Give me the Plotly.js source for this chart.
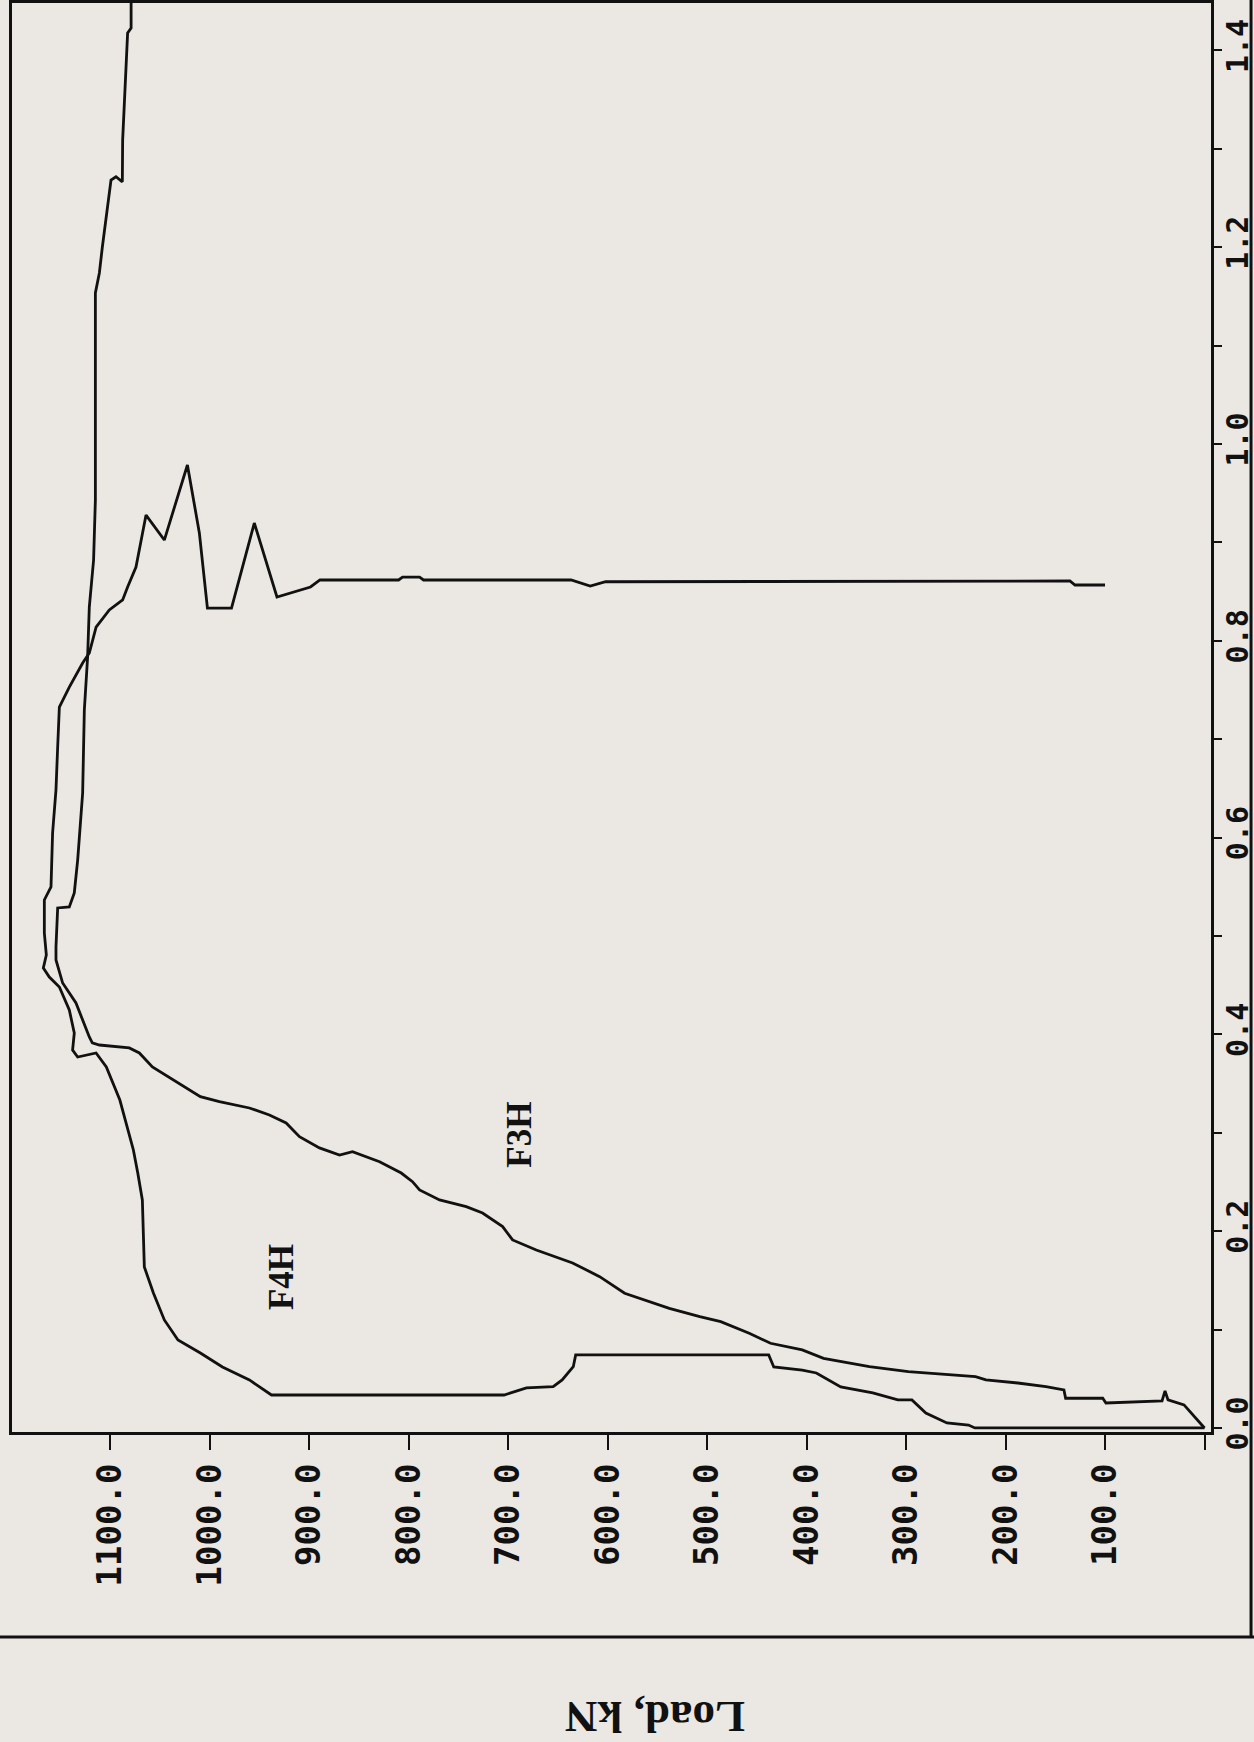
<!DOCTYPE html>
<html>
<head>
<meta charset="utf-8">
<script src="https://cdn.plot.ly/plotly-3.0.1.min.js"></script>
<style>html,body{margin:0;padding:0;background:#ebe7e2;}</style>
</head>
<body>
<div id="chart" style="width:1254px;height:1742px;"></div>
<script>
// F3H : load (kN) vs displacement
const f3hLoad = [0, 9.9, 20.6, 36.7, 39.7, 42.7, 99.1, 102.3, 139.6, 141.3, 159.4, 187.6, 219.7, 230.2, 297.7, 336.8, 382.9, 404.3, 436.2, 457.6, 486.2, 507.3, 537.9, 582.8, 607.9, 635.1, 671.6, 695.4, 705.4, 725.6, 742, 768.8, 788.9, 796, 807.3, 829.1, 856.3, 869.3, 889.5, 909.6, 923, 939.8, 959.9, 990.1, 1009.2, 1057.4, 1070.5, 1080.6, 1110.7, 1117.8, 1120.8, 1134.2, 1147.6, 1154.3, 1154.3, 1152.6, 1140.9, 1135.9, 1132.5, 1127.5, 1125.8, 1122.5, 1120.8, 1116.5, 1114.7, 1114.7, 1110.7, 1107.7, 1104, 1100.7, 1099, 1094, 1087.6, 1087.3, 1084, 1082.3, 1078.8, 1078.8];
const f3hDisp = [0, 0.0115, 0.0234, 0.0285, 0.0376, 0.0274, 0.0254, 0.0302, 0.0302, 0.0386, 0.042, 0.0457, 0.0488, 0.0521, 0.0572, 0.0623, 0.0708, 0.0793, 0.0861, 0.0962, 0.108, 0.1131, 0.1216, 0.1369, 0.1538, 0.1677, 0.1809, 0.1911, 0.2046, 0.2185, 0.2249, 0.2317, 0.2419, 0.2503, 0.2591, 0.2706, 0.2808, 0.2774, 0.2846, 0.296, 0.31, 0.3181, 0.3252, 0.3316, 0.3367, 0.3669, 0.3811, 0.3862, 0.3892, 0.3913, 0.3974, 0.4319, 0.4522, 0.4756, 0.4888, 0.5285, 0.5295, 0.5437, 0.5772, 0.6453, 0.7297, 0.7835, 0.8343, 0.8821, 0.9431, 1.1535, 1.1738, 1.2002, 1.2276, 1.2551, 1.2683, 1.2716, 1.2665, 1.3089, 1.3733, 1.4177, 1.4228, 1.47];

// F4H : load (kN) vs displacement
const f4hLoad = [0, 230.8, 237.2, 258.9, 280.1, 294.1, 308.2, 333.4, 365.6, 390.1, 404.3, 432.9, 438, 507.3, 632, 634.4, 645.6, 654.6, 681.5, 704, 807.2, 937.7, 959.9, 987, 1009.2, 1031.7, 1045.4, 1056.4, 1065.5, 1067.5, 1072.1, 1076.5, 1090.1, 1103.7, 1114, 1132.5, 1137.6, 1135.9, 1140.9, 1150.9, 1161, 1167, 1164, 1166, 1166, 1159.3, 1157.7, 1154.3, 1152.6, 1150.9, 1140.9, 1127.5, 1120.8, 1114, 1100.7, 1087.3, 1082.3, 1073.9, 1063.8, 1045.4, 1022.2, 1010.2, 1002.1, 977.9, 955, 932.2, 898.5, 889, 810, 806, 788.9, 784.9, 636.6, 617.4, 601.9, 135.3, 130.2, 100];
const f4hDisp = [0, 0, 0.003, 0.0051, 0.0152, 0.0285, 0.0285, 0.0356, 0.0417, 0.0559, 0.0589, 0.062, 0.0742, 0.0742, 0.0742, 0.0623, 0.0488, 0.042, 0.0407, 0.0335, 0.0335, 0.0335, 0.0488, 0.062, 0.0762, 0.0894, 0.1098, 0.1372, 0.1636, 0.2317, 0.2591, 0.2825, 0.3333, 0.3669, 0.3811, 0.377, 0.3841, 0.4014, 0.4248, 0.4482, 0.4583, 0.4675, 0.4807, 0.503, 0.5366, 0.5498, 0.6047, 0.6484, 0.6921, 0.7327, 0.753, 0.7774, 0.7876, 0.814, 0.8313, 0.8415, 0.8547, 0.875, 0.9278, 0.9024, 0.9787, 0.9096, 0.8333, 0.8333, 0.9197, 0.8445, 0.8547, 0.8618, 0.8618, 0.8648, 0.8648, 0.8618, 0.8618, 0.8557, 0.86, 0.8608, 0.8567, 0.8567];

// Tick labels
const loadTicks = [0, 100, 200, 300, 400, 500, 600, 700, 800, 900, 1000, 1100];
const loadTickText = ["", "100.0", "200.0", "300.0", "400.0", "500.0", "600.0", "700.0", "800.0", "900.0", "1000.0", "1100.0"];
const dispTicks = [0, 0.2, 0.4, 0.6, 0.8, 1.0, 1.2, 1.4];
const dispTickText = ["0.0", "0.2", "0.4", "0.6", "0.8", "1.0", "1.2", "1.4"];

// Labels
const curveLabels = [
  {name: "F3H", load: 688, disp: 0.298},
  {name: "F4H", load: 927, disp: 0.1535}
];
const axisTitle = "Load, kN";

const bg = "#ebe7e2";
const lineStyle = {color: "#111", width: 2.8};

const traces = [
  {x: f3hLoad, y: f3hDisp, mode: "lines", line: lineStyle, name: "F3H", hoverinfo: "skip"},
  {x: f4hLoad, y: f4hDisp, mode: "lines", line: lineStyle, name: "F4H", hoverinfo: "skip"}
];

const tickFontX = {family: "DejaVu Sans Mono", size: 34, color: "#111", weight: "bold"};
const tickFontY = {family: "DejaVu Sans Mono", size: 30, color: "#111", weight: "bold"};

const annotations = curveLabels.map(c => ({
  x: c.load, y: c.disp, xref: "x", yref: "y", text: c.name, showarrow: false,
  textangle: -90, font: {family: "Liberation Serif", size: 35, color: "#111", weight: "bold"}
}));
annotations.push({
  x: 0.5363, y: -0.2185, xref: "paper", yref: "paper", text: axisTitle, showarrow: false,
  textangle: 180, font: {family: "Liberation Serif", size: 45, color: "#111", weight: "bold"}
});

const layout = {
  width: 1254, height: 1742,
  margin: {l: 12, r: 43, t: 3, b: 310, pad: 0},
  paper_bgcolor: bg, plot_bgcolor: bg,
  showlegend: false,
  xaxis: {
    range: [1198.5, -6.5], autorange: false,
    tickvals: loadTicks, ticktext: loadTickText,
    ticks: "outside", ticklen: 15, tickwidth: 2, tickcolor: "#111",
    tickangle: -90, tickfont: tickFontX, ticklabelstandoff: 0,
    showgrid: false, zeroline: false,
    showline: true, mirror: true, linewidth: 3, linecolor: "#111"
  },
  yaxis: {
    range: [-0.0041, 1.4482], autorange: false, side: "right",
    tickvals: dispTicks, ticktext: dispTickText,
    ticks: "outside", ticklen: 8, tickwidth: 2, tickcolor: "#111",
    minor: {dtick: 0.1, tick0: 0, ticks: "outside", ticklen: 8, tickwidth: 2, tickcolor: "#111"},
    tickangle: -90, tickfont: tickFontY, ticklabelstandoff: -10,
    showgrid: false, zeroline: false,
    showline: true, mirror: true, linewidth: 3, linecolor: "#111"
  },
  annotations: annotations,
  shapes: [
    {type: "line", xref: "paper", yref: "paper", x0: -0.02, x1: 1.04, y0: -0.1435, y1: -0.1435, line: {color: "#111", width: 3}},
    {type: "line", xref: "paper", yref: "paper", x0: 1.0334, x1: 1.0334, y0: -0.1435, y1: 1.01, line: {color: "#111", width: 3}}
  ]
};

Plotly.newPlot("chart", traces, layout, {displayModeBar: false, staticPlot: true});
</script>
</body>
</html>
